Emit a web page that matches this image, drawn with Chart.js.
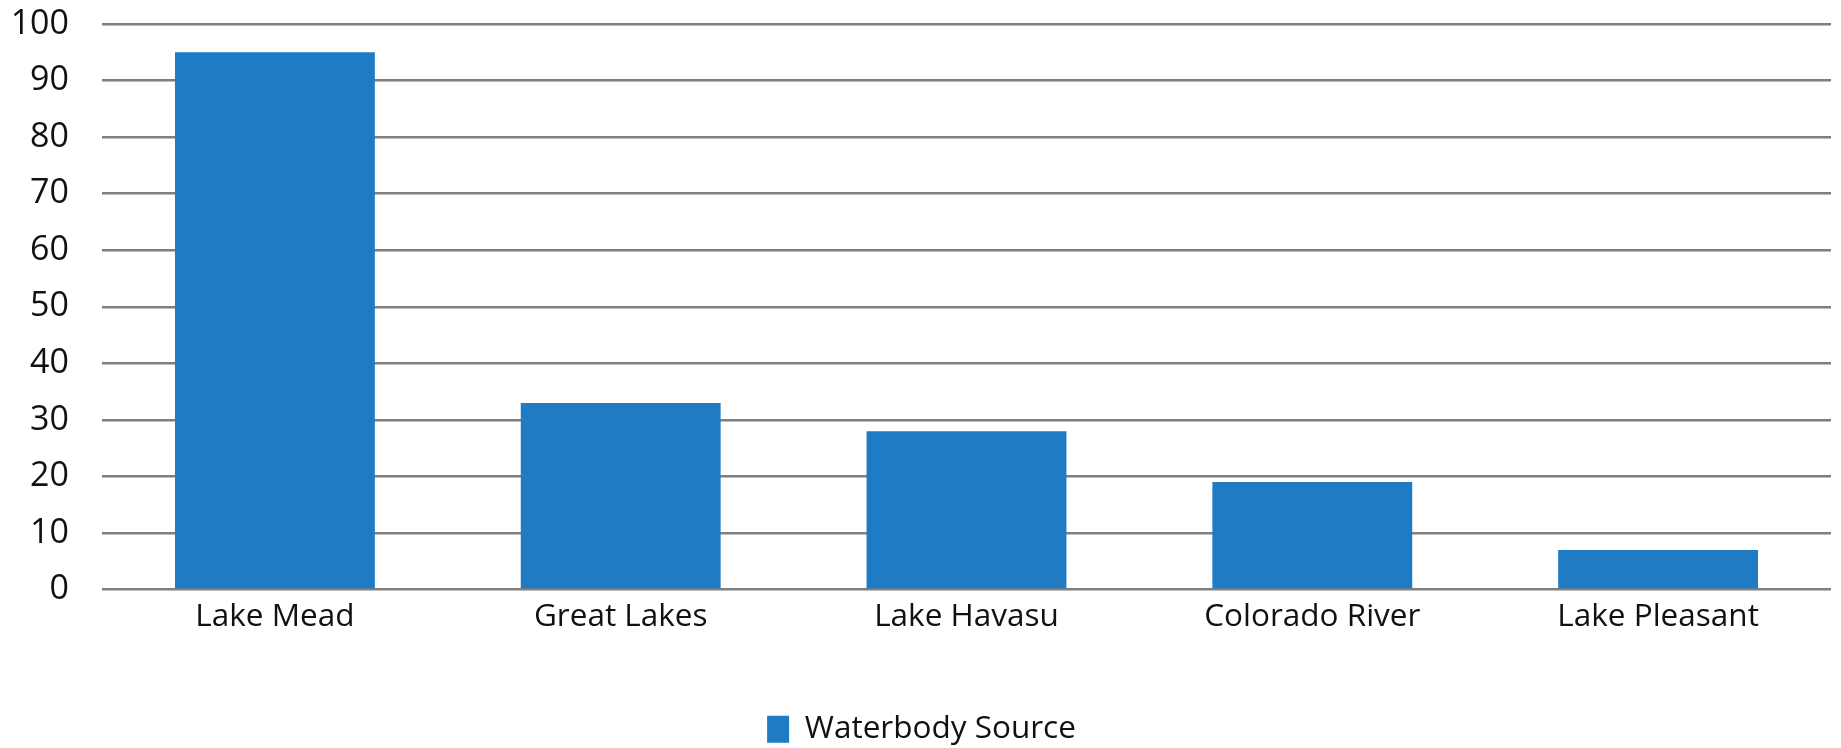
<!DOCTYPE html>
<html>
<head>
<meta charset="utf-8">
<script src="https://cdn.jsdelivr.net/npm/chart.js@4/dist/chart.umd.min.js"></script>
<style>
  html, body { margin: 0; padding: 0; background: #fff; }
  #chart { display: block; }
</style>
</head>
<body>
<canvas id="chart" width="1841" height="748"></canvas>
<script>
// Categories and values
const waterbodies = ['Lake Mead', 'Great Lakes', 'Lake Havasu', 'Colorado River', 'Lake Pleasant'];
const sourceCounts = [95, 33, 28, 19, 7];
const seriesName = 'Waterbody Source';
const yTicks = [0, 10, 20, 30, 40, 50, 60, 70, 80, 90, 100];

const barColor = '#1f7bc3';
const gridColor = '#7f7f7f';
const fontFamily = "'Open Sans', sans-serif";

const ctx = document.getElementById('chart').getContext('2d');
const chart = new Chart(ctx, {
    type: 'bar',
    data: {
        labels: waterbodies,
        datasets: [{
            label: seriesName,
            data: sourceCounts,
            backgroundColor: barColor,
            borderWidth: 0,
            barPercentage: 0.578,
            categoryPercentage: 1.0
        }]
    },
    options: {
        responsive: false,
        animation: false,
        layout: {
            padding: { left: 12, right: 10, top: 0, bottom: -7 }
        },
        plugins: {
            tooltip: { enabled: false },
            legend: {
                position: 'bottom',
                labels: {
                    boxWidth: 22,
                    boxHeight: 27,
                    color: '#111',
                    font: { family: fontFamily, size: 31.5 },
                    padding: 1
                }
            }
        },
        scales: {
            x: {
                grid: { display: false, drawTicks: false },
                border: { display: false },
                ticks: {
                    color: '#111',
                    font: { family: fontFamily, size: 31.5 },
                    padding: 9,
                    maxRotation: 0
                },
                afterFit: axis => { axis.height = 123; }
            },
            y: {
                min: 0,
                max: 100,
                afterBuildTicks: axis => {
                    axis.ticks = yTicks.map(v => ({ value: v }));
                },
                grid: {
                    color: gridColor,
                    lineWidth: 2.5,
                    drawTicks: false
                },
                border: { display: false },
                ticks: {
                    color: '#111',
                    font: { family: fontFamily, size: 34 },
                    padding: 33
                },
                // tick padding also gets added above the top label, so override it
                afterFit: axis => {
                    axis.width = 90;
                    axis.paddingTop = 24;
                }
            }
        }
    }
});
</script>
</body>
</html>
